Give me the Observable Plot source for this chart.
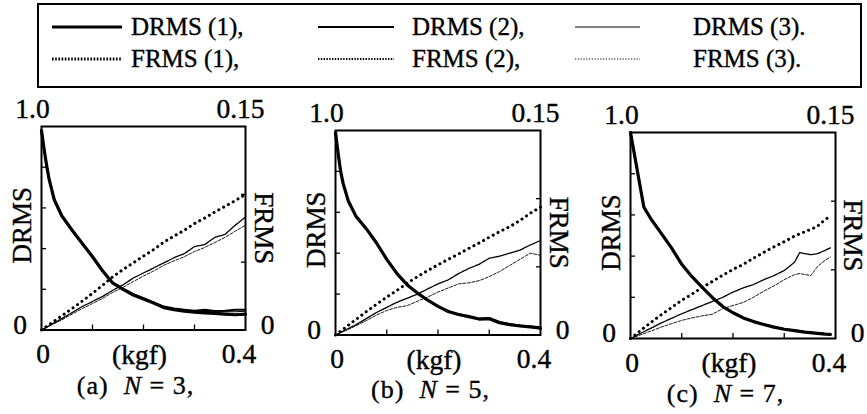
<!DOCTYPE html>
<html><head><meta charset="utf-8">
<script src="https://cdn.jsdelivr.net/npm/d3@7"></script>
<script src="https://cdn.jsdelivr.net/npm/@observablehq/plot@0.6"></script>
<style>
body{margin:0;background:#fff;}
#root{position:relative;width:867px;height:414px;overflow:hidden;background:#fff;font-family:"Liberation Serif","Times New Roman",serif;}
.abs{position:absolute;}
</style></head><body><div id="root"></div>
<script>
// ---------- data ----------
const forceD = [0,0.005,0.01,0.015,0.025,0.04,0.06,0.08,0.10,0.12,0.14,0.16,0.18,0.20,0.22,0.24,0.26,0.28,0.30,0.32,0.34,0.36,0.38,0.40];
const forceF = [0,0.02,0.04,0.06,0.08,0.10,0.12,0.14,0.16,0.18,0.20,0.22,0.24,0.26,0.28,0.30,0.32,0.34,0.36,0.38,0.40];
const forceCD = [0,0.026,0.04,0.06,0.08,0.10,0.12,0.14,0.16,0.18,0.20,0.22,0.24,0.26,0.28,0.30,0.32,0.34,0.36,0.38,0.39];
const forceCF = [0,0.02,0.04,0.06,0.08,0.10,0.12,0.14,0.16,0.18,0.20,0.22,0.24,0.26,0.28,0.30,0.32,0.33,0.352,0.365,0.38,0.39];

// (a) N = 3
const drmsA1 = [0.98,0.89,0.81,0.74,0.64,0.56,0.49,0.425,0.36,0.29,0.23,0.20,0.172,0.152,0.132,0.11,0.10,0.093,0.088,0.084,0.082,0.078,0.075,0.078];
const drmsA2 = [0.98,0.89,0.81,0.74,0.64,0.56,0.49,0.425,0.36,0.29,0.232,0.203,0.176,0.156,0.136,0.115,0.106,0.10,0.095,0.10,0.093,0.095,0.10,0.10];
const drmsA3 = [0.98,0.89,0.81,0.74,0.64,0.56,0.49,0.425,0.36,0.29,0.23,0.201,0.174,0.154,0.134,0.113,0.103,0.097,0.09,0.092,0.088,0.09,0.09,0.092];
const frmsA1 = [0,0.0053,0.0105,0.0158,0.0213,0.027,0.033,0.0393,0.0446,0.0495,0.0545,0.0593,0.0648,0.0693,0.0735,0.0785,0.0825,0.087,0.0912,0.0954,0.1];
const frmsA2 = [0,0.0042,0.0084,0.0128,0.0173,0.021,0.0248,0.0293,0.0333,0.0383,0.042,0.0458,0.0495,0.0533,0.0563,0.0615,0.063,0.0683,0.0705,0.0773,0.0833];
const frmsA3 = [0,0.0038,0.0075,0.0117,0.0158,0.0195,0.0233,0.0278,0.0315,0.0357,0.0398,0.0435,0.0477,0.051,0.054,0.0578,0.0608,0.0645,0.0683,0.0728,0.0773];

// (b) N = 5
const drmsB1 = [0.99,0.89,0.80,0.74,0.655,0.58,0.52,0.45,0.37,0.30,0.245,0.205,0.17,0.14,0.115,0.10,0.09,0.078,0.08,0.06,0.05,0.044,0.039,0.033];
const drmsB2 = [0.99,0.89,0.80,0.74,0.655,0.58,0.52,0.45,0.37,0.30,0.245,0.205,0.17,0.14,0.116,0.101,0.091,0.08,0.083,0.064,0.054,0.047,0.043,0.038];
const drmsB3 = [0.99,0.89,0.80,0.74,0.655,0.58,0.52,0.45,0.37,0.30,0.245,0.205,0.17,0.14,0.115,0.10,0.09,0.079,0.081,0.062,0.052,0.046,0.041,0.036];
const frmsB1 = [0,0.0057,0.0114,0.0171,0.0225,0.0278,0.0327,0.038,0.0428,0.0473,0.0515,0.0555,0.0594,0.0635,0.0675,0.0717,0.0758,0.0795,0.084,0.0893,0.0938];
const frmsB2 = [0,0.0038,0.0075,0.012,0.0165,0.0203,0.024,0.027,0.03,0.0338,0.0375,0.0405,0.045,0.0488,0.0518,0.0563,0.0578,0.06,0.0623,0.066,0.0693];
const frmsB3 = [0,0.0033,0.0068,0.0105,0.0146,0.018,0.0203,0.0215,0.0248,0.0278,0.0315,0.0345,0.0375,0.0383,0.0398,0.0428,0.0465,0.051,0.0555,0.06,0.0585];

// (c) N = 7
const drmsC1 = [1.0,0.638,0.58,0.51,0.44,0.36,0.30,0.248,0.198,0.155,0.125,0.10,0.082,0.068,0.055,0.045,0.038,0.031,0.026,0.021,0.02];
const drmsC2 = [1.0,0.638,0.58,0.51,0.44,0.36,0.30,0.248,0.198,0.156,0.126,0.101,0.083,0.069,0.056,0.046,0.039,0.032,0.027,0.022,0.021];
const drmsC3 = [1.0,0.638,0.58,0.51,0.44,0.36,0.30,0.248,0.198,0.155,0.125,0.10,0.082,0.068,0.055,0.046,0.038,0.031,0.026,0.022,0.02];
const frmsC1 = [0,0.006,0.0117,0.0173,0.0225,0.0278,0.0323,0.0372,0.0416,0.0461,0.0503,0.054,0.0585,0.0627,0.0668,0.0705,0.0746,0.0762,0.0795,0.0818,0.0867,0.089];
const frmsC2 = [0,0.0038,0.0075,0.0113,0.0147,0.018,0.021,0.024,0.027,0.03,0.0338,0.0368,0.0393,0.0428,0.0458,0.0495,0.0555,0.0625,0.061,0.0618,0.0642,0.066];
const frmsC3 = [0,0.0027,0.0054,0.0083,0.0108,0.0132,0.015,0.0165,0.0177,0.0218,0.024,0.0263,0.03,0.0345,0.0383,0.0428,0.0465,0.0473,0.0458,0.0525,0.057,0.0593];

const drmsMax = 1.0, frmsMax = 0.15, forceMax = 0.4;
const drmsTicks = [0.2,0.4,0.6,0.8];
const frmsTicks = [0.05,0.10];
const forceTicks = [0.1,0.2,0.3];
const captions = ["(a)", "(b)", "(c)"];
const nValues = [3, 5, 7];
const legendD = ["DRMS (1),", "DRMS (2),", "DRMS (3)."];
const legendF = ["FRMS (1),", "FRMS (2),", "FRMS (3)."];

// ---------- styles ----------
const FONT = '"Liberation Serif","Times New Roman",serif';
const dStyle = [
  {strokeWidth: 3.2},
  {strokeWidth: 2.0},
  {strokeWidth: 1.1}
];
const fStyle = [
  {strokeWidth: 3.0, strokeDasharray: "0.1,5.4", strokeLinecap: "round"},
  {strokeWidth: 1.3, strokeDasharray: "5,0.8"},
  {strokeWidth: 0.9, strokeDasharray: "3,1.6"}
];
const legendF_style = [
  {strokeWidth: 2.8, strokeDasharray: "1.6,1.6"},
  {strokeWidth: 1.8, strokeDasharray: "1.4,1.4"},
  {strokeWidth: 1.0, strokeDasharray: "1.2,1.6"}
];

const root = document.getElementById("root");

// ---------- legend ----------
(function legend(){
  const svg = d3.create("svg").attr("width", 867).attr("height", 95)
    .attr("class","abs").style("left","0px").style("top","0px");
  svg.append("rect").attr("x", 38).attr("y", 4).attr("width", 823).attr("height", 83)
    .attr("fill","none").attr("stroke","#000").attr("stroke-width", 2);
  const colLine = [[52,122],[318,394],[575,640]];
  const colText = [131, 412, 693];
  const rows = [{y: 27, base: 35, labels: legendD, st: dStyle}, {y: 59, base: 67, labels: legendF, st: legendF_style}];
  rows.forEach(r => {
    r.labels.forEach((lab, i) => {
      svg.append("line").attr("x1", colLine[i][0]).attr("x2", colLine[i][1])
        .attr("y1", r.y).attr("y2", r.y).attr("stroke","#000")
        .attr("stroke-width", r.st[i].strokeWidth)
        .attr("stroke-dasharray", r.st[i].strokeDasharray || null);
      svg.append("text").attr("x", colText[i]).attr("y", r.base)
        .attr("font-family", FONT).attr("font-size", 25)
        .attr("stroke", "#000").attr("stroke-width", 0.35).text(lab);
    });
  });
  root.appendChild(svg.node());
})();

// ---------- panels ----------
const panels = [
  {left: 40.5, top: 126, w: 204, h: 203.5, force: forceD, forceF: forceF, d: [drmsA1, drmsA2, drmsA3], f: [frmsA1, frmsA2, frmsA3], fr: 18},
  {left: 335, top: 129.5, w: 205, h: 204.5, force: forceD, forceF: forceF, d: [drmsB1, drmsB2, drmsB3], f: [frmsB1, frmsB2, frmsB3], fr: 18},
  {left: 630, top: 132, w: 205, h: 206, force: forceCD, forceF: forceCF, d: [drmsC1, drmsC2, drmsC3], f: [frmsC1, frmsC2, frmsC3], fr: 17}
];

panels.forEach((p, pi) => {
  const mL = 40, mR = 36, mT = 34, mB = 44;
  const rows = [];
  p.d.forEach((arr, si) => arr.forEach((v, k) => rows.push({series: "D" + si, x: p.force[k], y: v / drmsMax})));
  p.f.forEach((arr, si) => arr.forEach((v, k) => rows.push({series: "F" + si, x: p.forceF[k], y: v / frmsMax})));
  const lines = [];
  for (let si = 2; si >= 0; si--) {
    lines.push(Plot.line(rows.filter(r => r.series === "F" + si), {x: "x", y: "y", stroke: "#000", ...fStyle[si]}));
  }
  for (let si = 2; si >= 0; si--) {
    lines.push(Plot.line(rows.filter(r => r.series === "D" + si), {x: "x", y: "y", stroke: "#000", strokeLinejoin: "round", ...dStyle[si]}));
  }
  const txt = (s, opts) => Plot.text([s], {text: d => d, fontSize: 27.5, fill: "#000", stroke: "#000", strokeWidth: 0.4, textAnchor: "middle", lineAnchor: "middle", ...opts});
  const chart = Plot.plot({
    width: mL + p.w + mR,
    height: mT + p.h + mB,
    marginLeft: mL, marginRight: mR, marginTop: mT, marginBottom: mB,
    x: {domain: [0, forceMax], axis: null},
    y: {domain: [0, 1], axis: null},
    style: {fontFamily: FONT, background: "transparent", overflow: "visible", color: "#000"},
    marks: [
      ...lines,
      Plot.axisY(drmsTicks, {anchor: "left", tickSize: -5, tickFormat: () => "", label: null, strokeWidth: 1.3}),
      Plot.axisY(frmsTicks.map(v => v / frmsMax), {anchor: "right", tickSize: -5, tickFormat: () => "", label: null, strokeWidth: 1.3}),
      Plot.axisX(forceTicks, {anchor: "bottom", tickSize: -5, tickFormat: () => "", label: null, strokeWidth: 1.3}),
      Plot.frame({stroke: "#000", strokeWidth: 2}),
      txt("1.0", {frameAnchor: "top-left", dx: -9, dy: -17}),
      txt("0.15", {frameAnchor: "top-right", dx: -5, dy: -17}),
      txt("0", {frameAnchor: "bottom-left", dx: -21.5, dy: -5}),
      txt("0", {frameAnchor: "bottom-right", dx: 22, dy: -5}),
      txt("DRMS", {frameAnchor: "left", dx: -19, dy: -3, rotate: -90, fontSize: 27}),
      txt("FRMS", {frameAnchor: "right", dx: p.fr, dy: 0, rotate: 90, fontSize: 27}),
      txt("0", {frameAnchor: "bottom-left", dx: 1.5, dy: 24.5}),
      txt("(kgf)", {frameAnchor: "bottom", dx: -4, dy: 25}),
      txt("0.4", {frameAnchor: "bottom-right", dx: -6.5, dy: 24.5}),
    ]
  });
  chart.classList.add("abs");
  chart.style.left = (p.left - mL) + "px";
  chart.style.top = (p.top - mT) + "px";
  root.appendChild(chart);

  const cap = document.createElement("div");
  cap.className = "abs";
  cap.style.left = (p.left + p.w / 2 - 100 - 7) + "px";
  cap.style.width = "200px";
  cap.style.textAlign = "center";
  cap.style.top = (p.top + p.h + 43) + "px";
  cap.style.fontSize = "26px";
  cap.style.letterSpacing = "1px";
  cap.style.lineHeight = "25px";
  cap.style.whiteSpace = "pre";
  cap.style.webkitTextStroke = "0.35px #000";
  cap.innerHTML = captions[pi] + "&nbsp;&nbsp;<i>N</i>&nbsp;=&nbsp;" + nValues[pi] + ",";
  root.appendChild(cap);
});
</script></body></html>
